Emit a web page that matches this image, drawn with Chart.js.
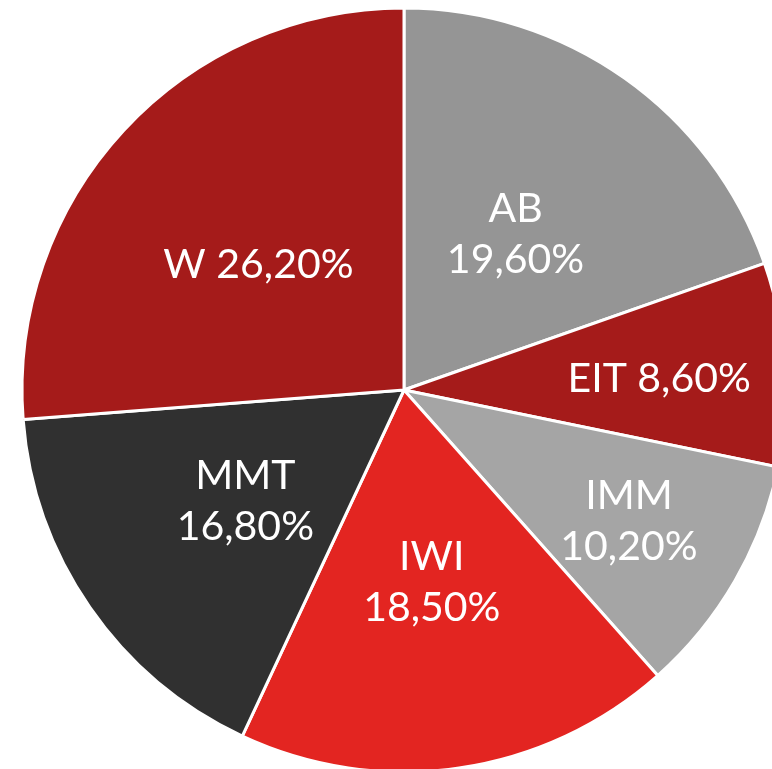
<!DOCTYPE html>
<html>
<head>
<meta charset="utf-8">
<script src="https://cdn.jsdelivr.net/npm/chart.js@4/dist/chart.umd.min.js"></script>
<style>
  html, body { margin: 0; padding: 0; background: #ffffff; overflow: hidden; }
  #wrap { position: relative; width: 772px; height: 769px; }
</style>
</head>
<body>
<div id="wrap"><canvas id="c" width="772" height="769"></canvas></div>
<script>
const categories = ["AB", "EIT", "IMM", "IWI", "MMT", "W"];
const shares = [19.6, 8.6, 10.2, 18.5, 16.8, 26.2];
const sliceColors = ["#959595", "#A51B1A", "#A5A5A5", "#E32521", "#303030", "#A51B1A"];
const singleLineLabels = ["EIT", "W"];

const labelPlugin = {
  id: 'sliceLabels',
  afterDatasetsDraw(chart) {
    const ctx = chart.ctx;
    const meta = chart.getDatasetMeta(0);
    const total = shares.reduce((a, b) => a + b, 0);
    ctx.save();
    ctx.fillStyle = '#ffffff';
    ctx.font = '41px Lato';
    ctx.textAlign = 'center';
    ctx.textBaseline = 'alphabetic';
    const capH = 29, lineGap = 51;
    meta.data.forEach((arc, i) => {
      const p = arc.getProps(['x', 'y', 'startAngle', 'endAngle', 'outerRadius'], true);
      const mid = (p.startAngle + p.endAngle) / 2;
      const frac = shares[i] / total;
      const f = frac < 0.12 ? 0.68 : 0.505;
      const cx = p.x + Math.cos(mid) * p.outerRadius * f;
      const cy = p.y + Math.sin(mid) * p.outerRadius * f;
      const pct = shares[i].toFixed(2).replace('.', ',') + '%';
      if (singleLineLabels.includes(categories[i])) {
        ctx.fillText(categories[i] + ' ' + pct, cx - 4, cy + capH / 2 + 5);
      } else {
        ctx.fillText(categories[i], cx, cy + capH / 2 - lineGap / 2);
        ctx.fillText(pct, cx, cy + capH / 2 + lineGap / 2);
      }
    });
    ctx.restore();
  }
};

new Chart(document.getElementById('c'), {
  type: 'pie',
  data: {
    labels: categories,
    datasets: [{
      data: shares,
      backgroundColor: sliceColors,
      borderColor: '#ffffff',
      borderWidth: 3,
      radius: 382,
      clip: false
    }]
  },
  options: {
    responsive: false,
    animation: false,
    devicePixelRatio: 1,
    layout: { padding: { left: 36, right: 0, top: 11, bottom: 0 } },
    plugins: { legend: { display: false }, tooltip: { enabled: false } }
  },
  plugins: [labelPlugin]
});
</script>
</body>
</html>
